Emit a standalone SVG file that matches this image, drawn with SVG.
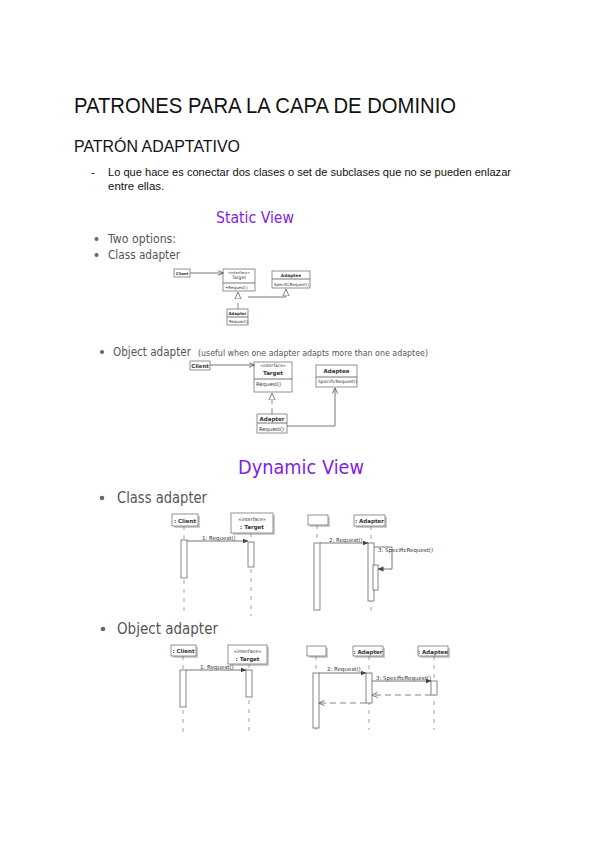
<svg xmlns="http://www.w3.org/2000/svg" width="600" height="848" viewBox="0 0 600 848">
<style>
.doc{font-family:"Liberation Sans",Arial,sans-serif;fill:#111}
.sl{font-family:"DejaVu Sans",Verdana,sans-serif;fill:#555}
.pur{font-family:"DejaVu Sans",Verdana,sans-serif;fill:#7f22e2}
.box{fill:#fff;stroke:#777;stroke-width:0.8}
.sh{fill:#ccc}
.ln{stroke:#666;stroke-width:0.9;fill:none}
.dl{stroke:#888;stroke-width:0.8;fill:none;stroke-dasharray:4 5}
.dr{stroke:#666;stroke-width:0.8;fill:none;stroke-dasharray:6 4}
.act{fill:#fff;stroke:#666;stroke-width:0.8}
.t{font-family:"DejaVu Sans",Verdana,sans-serif;fill:#333}
.b{font-weight:bold}
.bul{fill:#666}
</style>
<defs>
<marker id="fa" markerWidth="6" markerHeight="6" refX="5.5" refY="3" orient="auto" markerUnits="userSpaceOnUse"><path d="M0,0.5 L6,3 L0,5.5 Z" fill="#444"/></marker>
<marker id="oa" markerWidth="6" markerHeight="6" refX="5.5" refY="3" orient="auto" markerUnits="userSpaceOnUse"><path d="M0,0.5 L6,3 L0,5.5" fill="none" stroke="#555" stroke-width="0.8"/></marker>
<marker id="tri" markerWidth="8" markerHeight="8" refX="7" refY="4" orient="auto" markerUnits="userSpaceOnUse"><path d="M0,1 L7,4 L0,7 Z" fill="#fff" stroke="#666" stroke-width="0.8"/></marker>
</defs>

<g id="text">
<text class="doc" x="74" y="113" font-size="22" textLength="382" lengthAdjust="spacingAndGlyphs">PATRONES PARA LA CAPA DE DOMINIO</text>
<text class="doc" x="74" y="152" font-size="17" fill="#222" textLength="166" lengthAdjust="spacingAndGlyphs">PATRÓN ADAPTATIVO</text>
<text class="doc" x="91" y="176" font-size="11.5">-</text>
<text class="doc" x="108" y="176" font-size="11.5" textLength="403" lengthAdjust="spacingAndGlyphs">Lo que hace es conectar dos clases o set de subclases que no se pueden enlazar</text>
<text class="doc" x="108" y="190" font-size="11.5">entre ellas.</text>

<text class="pur" x="216" y="223" font-size="16.5" textLength="78" lengthAdjust="spacingAndGlyphs">Static View</text>
<circle class="bul" cx="96.5" cy="239" r="2"/>
<text class="sl" x="108" y="243" font-size="12.5" textLength="68" lengthAdjust="spacingAndGlyphs">Two options:</text>
<circle class="bul" cx="96.5" cy="255" r="2"/>
<text class="sl" x="108" y="259" font-size="12.5" textLength="72" lengthAdjust="spacingAndGlyphs">Class adapter</text>

<circle class="bul" cx="102" cy="352" r="2"/>
<text class="sl" x="113" y="356" font-size="12.5" textLength="78" lengthAdjust="spacingAndGlyphs">Object adapter</text>
<text class="sl" x="198" y="356" font-size="9.5" fill="#666" textLength="230" lengthAdjust="spacingAndGlyphs">(useful when one adapter adapts more than one adaptee)</text>

<text class="pur" x="238" y="474" font-size="19" textLength="126" lengthAdjust="spacingAndGlyphs">Dynamic View</text>
<circle class="bul" cx="102" cy="498" r="2.3"/>
<text class="sl" x="117" y="503" font-size="15" textLength="90" lengthAdjust="spacingAndGlyphs">Class adapter</text>
<circle class="bul" cx="103" cy="629" r="2.3"/>
<text class="sl" x="117" y="634" font-size="15" textLength="101" lengthAdjust="spacingAndGlyphs">Object adapter</text>
</g>

<!-- Static class adapter -->
<g id="sca-client"><rect class="box" x="174" y="269" width="16" height="8"/><text class="t b" x="182" y="275" font-size="3.8" text-anchor="middle">Client</text></g>
<g id="sca-target"><rect class="box" x="223" y="269" width="32" height="22"/><line class="ln" x1="223" y1="283" x2="255" y2="283"/><text class="t" x="239" y="273.5" font-size="3.8" text-anchor="middle">«interface»</text><text class="t" x="239" y="279" font-size="4.5" text-anchor="middle">Target</text><text class="t" x="225" y="288.5" font-size="4">+Request()</text></g>
<g id="sca-adaptee"><rect class="box" x="272" y="271" width="38" height="17"/><line class="ln" x1="272" y1="279" x2="310" y2="279"/><text class="t b" x="291" y="277" font-size="4.3" text-anchor="middle">Adaptee</text><text class="t" x="274" y="285.5" font-size="4">SpecificRequest()</text></g>
<g id="sca-adapter"><rect class="box" x="227" y="309" width="21" height="16"/><line class="ln" x1="227" y1="317" x2="248" y2="317"/><text class="t b" x="237.5" y="315" font-size="4" text-anchor="middle">Adapter</text><text class="t" x="229" y="323" font-size="4">Request()</text></g>

<!-- Static object adapter -->
<g id="soa-client"><rect class="box" x="190" y="361" width="20" height="9"/><text class="t b" x="200" y="368" font-size="5.3" text-anchor="middle">Client</text></g>
<g id="soa-target"><rect class="box" x="254" y="362" width="38" height="30"/><line class="ln" x1="254" y1="379" x2="292" y2="379"/><text class="t" x="273" y="367" font-size="4.5" text-anchor="middle">«interface»</text><text class="t b" x="273" y="375" font-size="5.5" text-anchor="middle">Target</text><text class="t" x="256" y="386" font-size="5.2">Request()</text></g>
<g id="soa-adaptee"><rect class="box" x="316" y="365" width="41" height="22"/><line class="ln" x1="316" y1="377" x2="357" y2="377"/><text class="t b" x="336.5" y="373" font-size="5.5" text-anchor="middle">Adaptee</text><text class="t" x="318" y="383" font-size="4.5">SpecificRequest()</text></g>
<g id="soa-adapter"><rect class="box" x="257" y="414" width="30" height="19"/><line class="ln" x1="257" y1="423" x2="287" y2="423"/><text class="t b" x="272" y="420.5" font-size="5.5" text-anchor="middle">Adapter</text><text class="t" x="259" y="430.5" font-size="5.2">Request()</text></g>

<!-- Sequence: class adapter -->
<g id="dca-client"><rect class="sh" x="174" y="516" width="26" height="12"/><rect class="box" x="172" y="514" width="26" height="12"/><text class="t b" x="185" y="522.5" font-size="5.5" text-anchor="middle">: Client</text></g>
<g id="dca-target"><rect class="sh" x="233" y="515" width="42" height="20"/><rect class="box" x="231" y="513" width="42" height="20"/><text class="t" x="252" y="521" font-size="4.8" text-anchor="middle">«interface»</text><text class="t b" x="252" y="529" font-size="5.5" text-anchor="middle">: Target</text></g>
<g id="dca-blank"><rect class="sh" x="310" y="517" width="20" height="10"/><rect class="box" x="308" y="515" width="20" height="10"/></g>
<g id="dca-adapter"><rect class="sh" x="356" y="517" width="31" height="11"/><rect class="box" x="354" y="515" width="31" height="11"/><text class="t b" x="369.5" y="523" font-size="5.5" text-anchor="middle">: Adapter</text></g>

<!-- Sequence: object adapter -->
<g id="doa-client"><rect class="sh" x="173" y="647" width="25" height="11"/><rect class="box" x="171" y="645" width="25" height="11"/><text class="t b" x="183.5" y="653" font-size="5.5" text-anchor="middle">: Client</text></g>
<g id="doa-target"><rect class="sh" x="230" y="647" width="39" height="19"/><rect class="box" x="228" y="645" width="39" height="19"/><text class="t" x="247.5" y="652.5" font-size="4.8" text-anchor="middle">«interface»</text><text class="t b" x="247.5" y="660.5" font-size="5.5" text-anchor="middle">: Target</text></g>
<g id="doa-blank"><rect class="sh" x="309" y="648" width="19" height="10"/><rect class="box" x="307" y="646" width="19" height="10"/></g>
<g id="doa-adapter"><rect class="sh" x="355" y="648" width="30" height="10"/><rect class="box" x="353" y="646" width="30" height="10"/><text class="t b" x="368" y="653.5" font-size="5.5" text-anchor="middle">: Adapter</text></g>
<g id="doa-adaptee"><rect class="sh" x="420" y="648" width="30" height="10"/><rect class="box" x="418" y="646" width="30" height="10"/><text class="t b" x="433" y="653.5" font-size="5.5" text-anchor="middle">: Adaptee</text></g>

<g id="connectors">
<line class="ln" x1="190" y1="273" x2="223" y2="273" marker-end="url(#oa)"/>
<line class="dr" x1="238" y1="309" x2="238" y2="292" stroke-dasharray="3 3" marker-end="url(#tri)"/>
<line class="ln" x1="248" y1="297" x2="286" y2="297"/>
<path class="ln" d="M286,297 L286,289" marker-end="url(#tri)"/>

<line class="ln" x1="210" y1="365" x2="254" y2="365" stroke-width="1.4" marker-end="url(#oa)"/>
<line class="dr" x1="272" y1="414" x2="272" y2="393" stroke-dasharray="3 3" marker-end="url(#tri)"/>
<path class="ln" d="M287,426 L335,426 L335,388" marker-end="url(#oa)"/>

<line class="dl" x1="184" y1="526" x2="184" y2="616"/>
<line class="dl" x1="251" y1="533" x2="251" y2="616"/>
<line class="dl" x1="317" y1="525" x2="317" y2="614"/>
<line class="dl" x1="371" y1="526" x2="371" y2="614"/>
<rect class="act" x="181" y="540" width="6" height="38"/>
<rect class="act" x="248" y="542" width="6" height="25"/>
<rect class="act" x="314" y="543" width="6" height="67"/>
<rect class="act" x="368" y="543" width="6" height="58"/>
<rect class="act" x="373" y="565" width="5" height="25"/>
<line class="ln" x1="187" y1="541" x2="248" y2="541" marker-end="url(#fa)"/>
<text class="t" x="202" y="539.5" font-size="5.5">1: Request()</text>
<line class="ln" x1="320" y1="543" x2="368" y2="543" marker-end="url(#fa)"/>
<text class="t" x="329" y="541.5" font-size="5.5">2: Request()</text>
<path class="ln" d="M374,547 L392,547 L392,569 L378,569" marker-end="url(#fa)"/>
<text class="t" x="378" y="552" font-size="5.5">3: SpecificRequest()</text>

<line class="dl" x1="183" y1="656" x2="183" y2="732"/>
<line class="dl" x1="249" y1="664" x2="249" y2="732"/>
<line class="dl" x1="316" y1="656" x2="316" y2="730"/>
<line class="dl" x1="369" y1="656" x2="369" y2="730"/>
<line class="dl" x1="434" y1="656" x2="434" y2="730"/>
<rect class="act" x="180" y="670" width="6" height="37"/>
<rect class="act" x="246" y="670" width="6" height="27"/>
<rect class="act" x="313" y="673" width="6" height="55"/>
<rect class="act" x="366" y="673" width="6" height="30"/>
<rect class="act" x="431" y="681" width="6" height="14"/>
<line class="ln" x1="186" y1="670" x2="246" y2="670" marker-end="url(#fa)"/>
<text class="t" x="200" y="668.5" font-size="5.5">1: Request()</text>
<line class="ln" x1="319" y1="673" x2="366" y2="673" marker-end="url(#fa)"/>
<text class="t" x="327" y="671" font-size="5.5">2: Request()</text>
<line class="ln" x1="372" y1="681" x2="431" y2="681" marker-end="url(#fa)"/>
<text class="t" x="376" y="679.5" font-size="5.5">3: SpecificRequest()</text>
<line class="dr" x1="431" y1="695" x2="372" y2="695" marker-end="url(#oa)"/>
<line class="dr" x1="366" y1="703" x2="319" y2="703" marker-end="url(#oa)"/>
</g>
</svg>
